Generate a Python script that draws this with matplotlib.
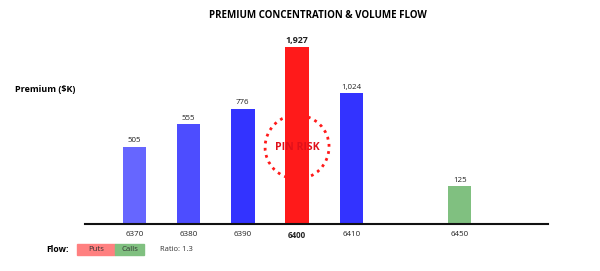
import matplotlib.pyplot as plt
from matplotlib.patches import Ellipse, Rectangle

plt.rcParams['font.family'] = ['Open Sans', 'DejaVu Sans']

# Data
strikes = ['6370', '6380', '6390', '6400', '6410', '6450']
slots = [0, 1, 2, 3, 4, 6]  # 6420-6440 left empty
premium = [505, 555, 776, 1927, 1024, 125]  # $K, shown as labels
bar_size = [77, 100, 115, 177, 131, 38]  # drawn height (relative)
colors = ['#6666FF', '#4D4DFF', '#3333FF', '#FF1A1A', '#3333FF', '#80C080']
pin_strike = '6400'
put_call_ratio = 1.3

fig = plt.figure(figsize=(6.0, 2.71), dpi=100)
ax = fig.add_axes([85 / 600, 47 / 271, 463 / 600, 200 / 271])
ax.set_xlim(-0.913, 7.63)
ax.set_ylim(0, 200)

bars = ax.bar(slots, bar_size, width=0.43, color=colors, edgecolor='none')

for s, h, v, name in zip(slots, bar_size, premium, strikes):
    bold = name == pin_strike
    ax.text(s, h + 2.5, f'{v:,}', ha='center', va='bottom',
            fontsize=6.4 if bold else 5.7,
            fontweight='bold' if bold else 'normal', color='#222222')

ax.set_xticks(slots)
ax.set_xticklabels(strikes, fontsize=5.8, color='#222222')
for lbl in ax.get_xticklabels():
    if lbl.get_text() == pin_strike:
        lbl.set_fontweight('bold')
ax.tick_params(axis='x', length=0, pad=5)
ax.set_yticks([])
for side in ['top', 'left', 'right']:
    ax.spines[side].set_visible(False)
ax.spines['bottom'].set_linewidth(1.5)
ax.spines['bottom'].set_color('#111111')

# pin risk marker
pin_x = slots[strikes.index(pin_strike)]
ax.add_patch(Ellipse((pin_x, 77), width=64 / 54.2, height=64, fill=False,
                     edgecolor='#FF1A1A', linewidth=2, linestyle=(0, (1, 1.6)),
                     zorder=3))
ax.text(pin_x, 77, 'PIN RISK', ha='center', va='center', fontsize=7.6,
        fontweight='bold', color='#E0101A', zorder=4)

fig.text(318 / 600, 1 - 16 / 271, 'PREMIUM CONCENTRATION & VOLUME FLOW',
         ha='center', va='center', fontsize=7.0, fontweight='bold')
fig.text(15 / 600, 1 - 90 / 271, 'Premium ($K)', ha='left', va='center',
         fontsize=6.5, fontweight='bold')

# flow legend
fig.text(46 / 600, 1 - 249 / 271, 'Flow:', ha='left', va='center',
         fontsize=6.2, fontweight='bold')
fig.patches.append(Rectangle((77 / 600, 1 - 255 / 271), 38 / 600, 11 / 271,
                             transform=fig.transFigure, color='#FF8080'))
fig.patches.append(Rectangle((115 / 600, 1 - 255 / 271), 29 / 600, 11 / 271,
                             transform=fig.transFigure, color='#80C080'))
fig.text(96 / 600, 1 - 249.5 / 271, 'Puts', ha='center', va='center', fontsize=5.6, color='#333333')
fig.text(129.5 / 600, 1 - 249.5 / 271, 'Calls', ha='center', va='center', fontsize=5.6, color='#333333')
fig.text(160 / 600, 1 - 249.5 / 271, f'Ratio: {put_call_ratio}', ha='left', va='center',
         fontsize=5.5, color='#333333')

fig.savefig('out.png', dpi=100)
